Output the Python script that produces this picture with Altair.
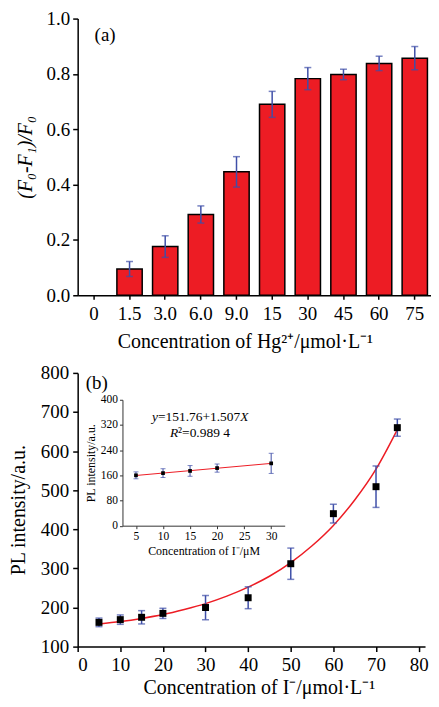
import altair as alt
import pandas as pd

# ---------------- data: panel (a) ----------------
hg_labels = ["0", "1.5", "3.0", "6.0", "9.0", "15", "30", "45", "60", "75"]
quench = [0.0, 0.095, 0.176, 0.292, 0.446, 0.690, 0.783, 0.798, 0.838, 0.857]
quench_err = [0.0, 0.027, 0.039, 0.031, 0.055, 0.047, 0.040, 0.019, 0.026, 0.042]

# ---------------- data: panel (b) ----------------
iodide_conc = [5, 10, 15, 20, 30, 40, 50, 60, 70, 75]
pl_intensity = [162, 169, 175, 185, 200, 225, 312, 440, 509, 660]
pl_err = [11, 12, 17, 13, 31, 28, 40, 24, 53, 22]
curve_x = [5, 10, 15, 20, 25, 30, 35, 40, 45, 50, 55, 60, 65, 70, 75]
curve_y = [158, 164, 172, 182, 195, 210, 229, 252, 280, 315, 358, 410, 475, 554, 655]

# inset
inset_conc = [5, 10, 15, 20, 30]
inset_pl = [160, 167, 174, 183, 198]
inset_err = [11, 14, 17, 13, 32]

FONT = "Liberation Serif"
RED = "#ED1C24"
BLUE = "#3F4FA8"

W_TOP, H_TOP = 355, 278
W_BOT, H_BOT = 349, 275

# ================= panel (a) =================
dfa = pd.DataFrame({"c": hg_labels, "v": quench, "e": quench_err})
dfa["lo"] = dfa["v"] - dfa["e"]
dfa["hi"] = dfa["v"] + dfa["e"]

xa = alt.X("c:N", sort=hg_labels,
           scale=alt.Scale(domain=hg_labels, paddingInner=0.29, paddingOuter=0.1),
           axis=alt.Axis(title="Concentration of Hg²⁺/μmol·L⁻¹", labelAngle=0,
                         tickSize=4, labelPadding=5, titlePadding=8,
                         labelFontSize=19, titleFontSize=20, titleX=168,
                         titleAnchor="start", titleAlign="center"))
ya_scale = alt.Scale(domain=[0, 1], nice=False)
ya_axis = alt.Axis(title="(F₀-F₁)/F₀", values=[0, 0.2, 0.4, 0.6, 0.8, 1.0],
                   format=".1f", tickSize=5, labelPadding=3, titlePadding=11,
                   labelFontSize=19, titleFontSize=20, titleFontStyle="italic")


def ya(field):
    return alt.Y(field, type="quantitative", scale=ya_scale, axis=ya_axis)


bars = alt.Chart(dfa).transform_filter("datum.v > 0").mark_bar(
    color=RED, stroke="black", strokeWidth=1.5).encode(x=xa, y=ya("v"))
errs_a = alt.Chart(dfa).transform_filter("datum.e > 0").mark_rule(
    color=BLUE, strokeWidth=1.5).encode(x=xa, y=ya("lo"), y2="hi")
cap_a1 = alt.Chart(dfa).transform_filter("datum.e > 0").mark_tick(
    color=BLUE, size=7, thickness=1.5, orient="horizontal").encode(x=xa, y=ya("hi"))
cap_a2 = alt.Chart(dfa).transform_filter("datum.e > 0").mark_tick(
    color=BLUE, size=7, thickness=1.5, orient="horizontal").encode(x=xa, y=ya("lo"))
lab_a = alt.Chart(pd.DataFrame({"t": ["(a)"]})).mark_text(
    font=FONT, fontSize=19, align="left", baseline="middle", color="black").encode(
    x=alt.value(17), y=alt.value(17), text="t:N")

top = alt.layer(bars, errs_a, cap_a1, cap_a2, lab_a).properties(width=W_TOP, height=H_TOP)

# ================= panel (b) main =================
dfb = pd.DataFrame({"x": iodide_conc, "y": pl_intensity, "e": pl_err})
dfb["lo"] = dfb["y"] - dfb["e"]
dfb["hi"] = dfb["y"] + dfb["e"]
dfc = pd.DataFrame({"x": curve_x, "y": curve_y})

xb_scale = alt.Scale(domain=[0, 81.5], nice=False)
xb_axis = alt.Axis(title="Concentration of I⁻/μmol·L⁻¹", values=list(range(0, 81, 10)),
                   tickSize=5, labelPadding=4, titlePadding=3,
                   labelFontSize=19, titleFontSize=20, titleX=182,
                   titleAnchor="start", titleAlign="center")
yb_scale = alt.Scale(domain=[100, 800], nice=False)
yb_axis = alt.Axis(title="PL intensity/a.u.", values=list(range(100, 801, 100)),
                   tickSize=5, labelPadding=4, titlePadding=12,
                   labelFontSize=19, titleFontSize=20)


def xb(field):
    return alt.X(field, type="quantitative", scale=xb_scale, axis=xb_axis)


def yb(field):
    return alt.Y(field, type="quantitative", scale=yb_scale, axis=yb_axis)


curve = alt.Chart(dfc).mark_line(color=RED, strokeWidth=1.5, interpolate="monotone").encode(
    x=xb("x"), y=yb("y"))
errs_b = alt.Chart(dfb).mark_rule(color=BLUE, strokeWidth=1.5).encode(
    x=xb("x"), y=yb("lo"), y2="hi")
cap_b1 = alt.Chart(dfb).mark_tick(color=BLUE, size=7, thickness=1.5,
                                  orient="horizontal").encode(x=xb("x"), y=yb("hi"))
cap_b2 = alt.Chart(dfb).mark_tick(color=BLUE, size=7, thickness=1.5,
                                  orient="horizontal").encode(x=xb("x"), y=yb("lo"))
pts_b = alt.Chart(dfb).mark_point(shape="square", filled=True, color="black",
                                  size=49, opacity=1).encode(x=xb("x"), y=yb("y"))
lab_b = alt.Chart(pd.DataFrame({"t": ["(b)"]})).mark_text(
    font=FONT, fontSize=19, align="left", baseline="middle", color="black").encode(
    x=alt.value(8), y=alt.value(10), text="t:N")

main_b = alt.layer(curve, errs_b, cap_b1, cap_b2, pts_b, lab_b)

# ================= inset =================
dfi = pd.DataFrame({"x": inset_conc, "y": inset_pl, "e": inset_err})
dfi["lo"] = dfi["y"] - dfi["e"]
dfi["hi"] = dfi["y"] + dfi["e"]

xi_scale = alt.Scale(domain=[2.5, 32.5], range=[45, 208], nice=False, zero=False)
xi_axis = alt.Axis(title="Concentration of I⁻/μM", values=[5, 10, 15, 20, 25, 30],
                   orient="bottom", offset=153.5 - H_BOT, tickSize=3, labelPadding=2,
                   titlePadding=3, labelFontSize=11.5, titleFontSize=12,
                   domainColor="#333333", tickColor="#333333", domainWidth=1, tickWidth=1)
yi_scale = alt.Scale(domain=[0, 400], range=[153.5, 27], nice=False)
yi_axis = alt.Axis(title="PL intensity/a.u.", values=[0, 80, 160, 240, 320, 400],
                   orient="left", offset=-45, tickSize=3, labelPadding=2,
                   titlePadding=3, labelFontSize=11.5, titleFontSize=12,
                   domainColor="#333333", tickColor="#333333", domainWidth=1, tickWidth=1)


def xi(field):
    return alt.X(field, type="quantitative", scale=xi_scale, axis=xi_axis)


def yi(field):
    return alt.Y(field, type="quantitative", scale=yi_scale, axis=yi_axis)


fit_i = alt.Chart(dfi).transform_regression("x", "y", extent=[5, 30]).mark_line(
    color=RED, strokeWidth=1).encode(x=xi("x"), y=yi("y"))
errs_i = alt.Chart(dfi).mark_rule(color=BLUE, strokeWidth=1).encode(
    x=xi("x"), y=yi("lo"), y2="hi")
cap_i1 = alt.Chart(dfi).mark_tick(color=BLUE, size=5, thickness=1,
                                  orient="horizontal").encode(x=xi("x"), y=yi("hi"))
cap_i2 = alt.Chart(dfi).mark_tick(color=BLUE, size=5, thickness=1,
                                  orient="horizontal").encode(x=xi("x"), y=yi("lo"))
pts_i = alt.Chart(dfi).mark_point(shape="square", filled=True, color="black",
                                  size=14, opacity=1).encode(x=xi("x"), y=yi("y"))

eq_x = [7.96, 7.96, 7.96, 11.27, 11.27]
eq_y = [346, 346, 346, 293, 293]
eq_t = ["y", "=151.76+1.507", "X", "R", "²=0.989 4"]
eq_dx = [0, 6.0, 88.7, 0, 8.2]
eq_style = ["italic", "normal", "italic", "italic", "normal"]
dfe = pd.DataFrame({"x": eq_x, "y": eq_y, "t": eq_t})

eq_layers = []
for i in range(len(eq_t)):
    eq_layers.append(
        alt.Chart(dfe.iloc[[i]]).mark_text(
            font=FONT, fontSize=13.5, align="left", baseline="middle", color="black",
            dx=float(eq_dx[i]), fontStyle=eq_style[i]).encode(
            x=xi("x"), y=yi("y"), text="t:N"))

inset = alt.layer(fit_i, errs_i, cap_i1, cap_i2, pts_i, *eq_layers)

bottom = alt.layer(main_b, inset).resolve_scale(
    x="independent", y="independent").properties(width=W_BOT, height=H_BOT)

chart = alt.ConcatChart(concat=[top, bottom], columns=1, spacing=13, align="none").properties(
    padding={"left": 0, "top": 0, "right": 0, "bottom": 0}
).configure_axis(
    labelFont=FONT, titleFont=FONT, labelColor="black", titleColor="black",
    titleFontWeight="normal", domainColor="black", tickColor="black",
    domainWidth=1.5, tickWidth=1.5, grid=False
).configure_view(stroke=None).configure_text(font=FONT)

chart.save("out.html", embed_options={"renderer": "svg", "actions": False})
